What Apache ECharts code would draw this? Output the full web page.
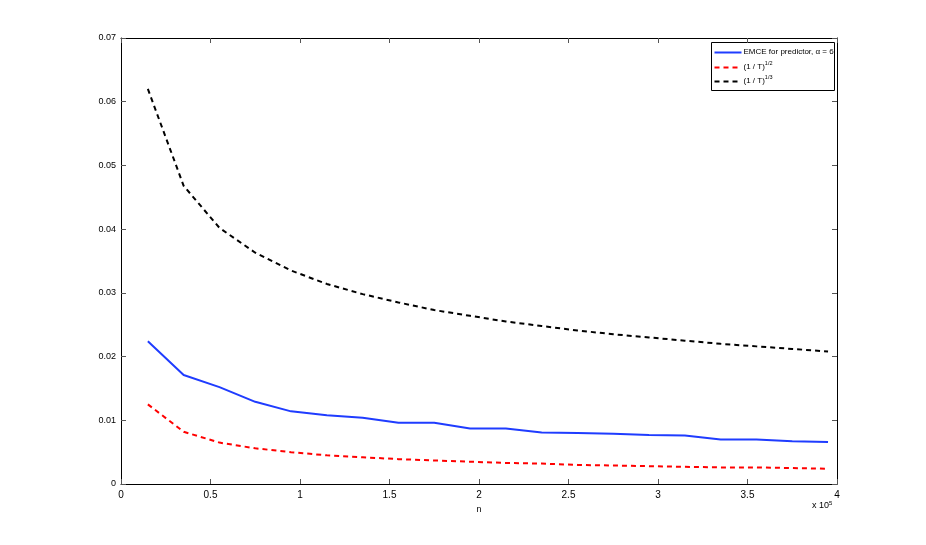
<!DOCTYPE html>
<html><head><meta charset="utf-8">
<script src="https://cdn.jsdelivr.net/npm/echarts@6/dist/echarts.min.js"></script>
<style>html,body{margin:0;padding:0;background:#fff}#c{width:926px;height:545px}</style>
</head><body><div id="c"></div>
<script>
const nValues = [0.15,0.35,0.55,0.75,0.95,1.15,1.35,1.55,1.75,1.95,2.15,2.35,2.55,2.75,2.95,3.15,3.35,3.55,3.75,3.95];
const emce = [0.0224,0.0171,0.0152,0.0129,0.0114,0.0108,0.0104,0.0096,0.0096,0.0087,0.0087,0.0081,0.0080,0.0079,0.0077,0.0076,0.0070,0.0070,0.0067,0.0066];
const rootHalf = [0.0125,0.0082,0.0065,0.0056,0.0050,0.0045,0.0042,0.0039,0.0037,0.0035,0.0033,0.0032,0.0030,0.0029,0.0028,0.0027,0.0026,0.0026,0.0025,0.0024];
const rootThird = [0.0620,0.0468,0.0402,0.0363,0.0335,0.0314,0.0298,0.0285,0.0273,0.0264,0.0255,0.0248,0.0241,0.0235,0.0230,0.0225,0.0220,0.0216,0.0212,0.0208];
const xTicks = ['0','0.5','1','1.5','2','2.5','3','3.5','4'];
const yTicks = ['0','0.01','0.02','0.03','0.04','0.05','0.06','0.07'];
const seriesNames = ['EMCE for predictor, \u03b1 = 6','(1 / T)','(1 / T)'];

const font = 'Liberation Sans, Arial, sans-serif';
const pair = a => nValues.map((x,i)=>[x,a[i]]);
const chart = echarts.init(document.getElementById('c'), null, {renderer:'canvas'});
const axisCommon = {
  axisLine:{show:true,onZero:false,lineStyle:{color:'#000',width:1}},
  axisTick:{show:true,inside:true,length:5,lineStyle:{color:'#555'}},
  splitLine:{show:false}
};
const grid = {left:121,right:89,top:38,bottom:61};
const sup = {a:{fontFamily:font,fontSize:8,fill:'#000'},s:{fontFamily:font,fontSize:5.5,fill:'#000',verticalAlign:'top',padding:[0,0,6,0]}};
chart.setOption({
  animation:false,
  grid,
  xAxis:[
    Object.assign({type:'value',min:0,max:4,interval:0.5,position:'bottom',
      axisLabel:{color:'#000',fontFamily:font,fontSize:10,margin:6,formatter:(v)=>xTicks[Math.round(v*2)]},
      name:'n',nameLocation:'middle',nameGap:18,nameTextStyle:{color:'#000',fontFamily:font,fontSize:9}},axisCommon),
    Object.assign({type:'value',min:0,max:4,interval:0.5,position:'top',axisLabel:{show:false}},axisCommon)
  ],
  yAxis:[
    Object.assign({type:'value',min:0,max:0.07,interval:0.01,position:'left',
      axisLabel:{color:'#000',fontFamily:font,fontSize:9,margin:5,formatter:(v)=>yTicks[Math.round(v*100)]}},axisCommon),
    Object.assign({type:'value',min:0,max:0.07,interval:0.01,position:'right',axisLabel:{show:false}},axisCommon)
  ],
  series:[
    {name:seriesNames[0],type:'line',data:pair(emce),showSymbol:false,symbol:'none',
      lineStyle:{color:'#1f3cff',width:2}},
    {name:'half',type:'line',data:pair(rootHalf),showSymbol:false,symbol:'none',
      lineStyle:{color:'#ff0000',width:2,type:[5,4]}},
    {name:'third',type:'line',data:pair(rootThird),showSymbol:false,symbol:'none',
      lineStyle:{color:'#000',width:2,type:[5,4]}}
  ],
  graphic:[
    {type:'text',left:812,top:500,style:{text:'{a|x 10}{s|5}',fill:'#000',
      rich:{a:{fontFamily:font,fontSize:9,fill:'#000'},s:{fontFamily:font,fontSize:6,fill:'#000',verticalAlign:'top',padding:[0,0,6,0]}}}},
    {type:'group',left:711,top:42,children:[
      {type:'rect',shape:{x:0,y:0,width:123,height:48},style:{fill:'#fff',stroke:'#000',lineWidth:1}},
      {type:'line',shape:{x1:3,y1:10,x2:30,y2:10},style:{stroke:'#1f3cff',lineWidth:2}},
      {type:'text',x:32,y:5,style:{text:'{a|'+seriesNames[0]+'}',rich:sup}},
      {type:'line',shape:{x1:3,y1:25,x2:30,y2:25},style:{stroke:'#ff0000',lineWidth:2,lineDash:[5,4]}},
      {type:'text',x:32,y:18,style:{text:'{a|'+seriesNames[1]+'}{s|1/2}',rich:sup}},
      {type:'line',shape:{x1:3,y1:39,x2:30,y2:39},style:{stroke:'#000',lineWidth:2,lineDash:[5,4]}},
      {type:'text',x:32,y:32,style:{text:'{a|'+seriesNames[2]+'}{s|1/3}',rich:sup}}
    ]}
  ]
});
</script></body></html>
